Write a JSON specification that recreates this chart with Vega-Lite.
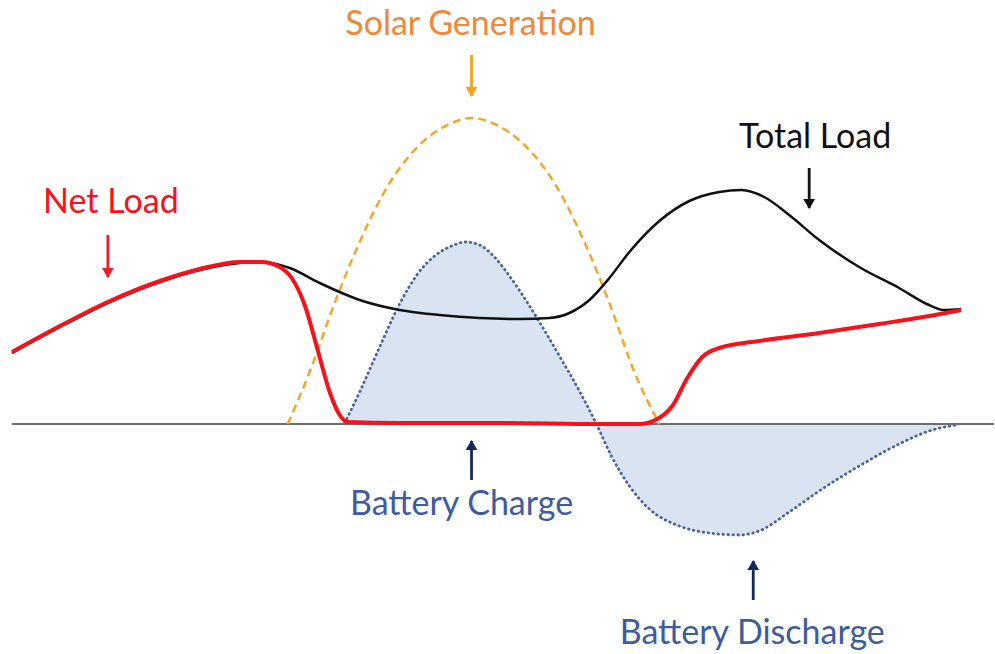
{
  "$schema": "https://vega.github.io/schema/vega-lite/v6.json",
  "autosize": {"type": "fit", "contains": "padding"},
  "width": 995,
  "height": 654,
  "padding": 0,
  "background": "white",
  "config": {"view": {"stroke": null}},
  "datasets": {
    "total": [
      {"x": 12, "y": 353}, {"x": 60, "y": 327}, {"x": 110, "y": 302}, {"x": 160, "y": 282}, {"x": 200, "y": 270},
      {"x": 240, "y": 263}, {"x": 262, "y": 262}, {"x": 290, "y": 268}, {"x": 320, "y": 283}, {"x": 360, "y": 300},
      {"x": 400, "y": 310}, {"x": 440, "y": 315}, {"x": 480, "y": 318}, {"x": 520, "y": 319}, {"x": 550, "y": 318},
      {"x": 570, "y": 313}, {"x": 590, "y": 300}, {"x": 610, "y": 278}, {"x": 630, "y": 252}, {"x": 660, "y": 221},
      {"x": 690, "y": 201}, {"x": 720, "y": 192}, {"x": 742, "y": 190}, {"x": 765, "y": 197}, {"x": 790, "y": 215},
      {"x": 820, "y": 240}, {"x": 860, "y": 267}, {"x": 900, "y": 288}, {"x": 930, "y": 305}, {"x": 945, "y": 310},
      {"x": 962, "y": 309}
    ],
    "net": [
      {"x": 12, "y": 352}, {"x": 60, "y": 326}, {"x": 110, "y": 301}, {"x": 160, "y": 281}, {"x": 200, "y": 269},
      {"x": 240, "y": 262}, {"x": 262, "y": 262}, {"x": 278, "y": 266}, {"x": 292, "y": 278}, {"x": 305, "y": 305},
      {"x": 318, "y": 350}, {"x": 330, "y": 392}, {"x": 340, "y": 415}, {"x": 348, "y": 422}, {"x": 400, "y": 423},
      {"x": 500, "y": 423}, {"x": 600, "y": 424}, {"x": 640, "y": 424}, {"x": 658, "y": 419}, {"x": 673, "y": 406},
      {"x": 688, "y": 378}, {"x": 703, "y": 357}, {"x": 720, "y": 348}, {"x": 760, "y": 341}, {"x": 820, "y": 333},
      {"x": 880, "y": 324}, {"x": 930, "y": 316}, {"x": 962, "y": 310}
    ],
    "solar": [
      {"x": 288, "y": 424}, {"x": 310, "y": 372}, {"x": 335, "y": 303}, {"x": 360, "y": 242}, {"x": 390, "y": 183},
      {"x": 420, "y": 145}, {"x": 450, "y": 124}, {"x": 472, "y": 118}, {"x": 495, "y": 124}, {"x": 525, "y": 145},
      {"x": 555, "y": 183}, {"x": 585, "y": 242}, {"x": 610, "y": 303}, {"x": 635, "y": 372}, {"x": 660, "y": 424}
    ],
    "battery": [
      {"x": 345, "y": 423}, {"x": 360, "y": 392}, {"x": 380, "y": 347}, {"x": 400, "y": 304}, {"x": 418, "y": 274},
      {"x": 435, "y": 256}, {"x": 452, "y": 246}, {"x": 466, "y": 242}, {"x": 480, "y": 245}, {"x": 494, "y": 256},
      {"x": 510, "y": 276}, {"x": 525, "y": 298}, {"x": 540, "y": 322}, {"x": 560, "y": 356}, {"x": 580, "y": 391},
      {"x": 597, "y": 424}, {"x": 612, "y": 456}, {"x": 630, "y": 486}, {"x": 650, "y": 509}, {"x": 680, "y": 526},
      {"x": 710, "y": 533}, {"x": 740, "y": 535}, {"x": 762, "y": 530}, {"x": 790, "y": 512}, {"x": 820, "y": 491},
      {"x": 860, "y": 466}, {"x": 900, "y": 444}, {"x": 930, "y": 431}, {"x": 957, "y": 425}
    ],
    "baseline": [{"x": 12, "x2": 995, "y": 424}],
    "arrows": [
      {"key": "solar", "x": 472, "tail": 55, "head": 96, "dir": "down"},
      {"key": "total", "x": 810, "tail": 168, "head": 208, "dir": "down"},
      {"key": "net", "x": 108, "tail": 235, "head": 277, "dir": "down"},
      {"key": "charge", "x": 472, "tail": 480, "head": 441, "dir": "up"},
      {"key": "discharge", "x": 754, "tail": 600, "head": 561, "dir": "up"}
    ],
    "labels": [
      {"text": "Solar Generation", "x": 471, "y": 25, "key": "solar-text"},
      {"text": "Total Load", "x": 816, "y": 138, "key": "total-text"},
      {"text": "Net Load", "x": 111, "y": 203, "key": "net-text"},
      {"text": "Battery Charge", "x": 462, "y": 505, "key": "charge-text"},
      {"text": "Battery Discharge", "x": 753, "y": 634, "key": "discharge-text"}
    ]
  },
  "encoding": {
    "x": {"field": "x", "type": "quantitative", "scale": {"domain": [0, 995], "nice": false, "zero": false}, "axis": null},
    "y": {"field": "y", "type": "quantitative", "scale": {"domain": [0, 654], "nice": false, "zero": false, "reverse": true}, "axis": null}
  },
  "layer": [
    {
      "data": {"name": "battery"},
      "mark": {"type": "area", "interpolate": "monotone", "color": "#dae3f2", "opacity": 1},
      "encoding": {"y2": {"datum": 424}}
    },
    {
      "data": {"name": "battery"},
      "mark": {"type": "line", "interpolate": "monotone", "color": "#46639a", "strokeWidth": 2.8, "strokeDash": [0.5, 4.5], "strokeCap": "round"},
      "encoding": {}
    },
    {
      "data": {"name": "baseline"},
      "mark": {"type": "rule", "color": "#6e6e6e", "strokeWidth": 2},
      "encoding": {"x": {"field": "x", "type": "quantitative"}, "x2": {"field": "x2"}, "y": {"field": "y", "type": "quantitative"}}
    },
    {
      "data": {"name": "solar"},
      "mark": {"type": "line", "interpolate": "monotone", "color": "#f5a52a", "strokeWidth": 2.5, "strokeDash": [8, 5]},
      "encoding": {}
    },
    {
      "data": {"name": "total"},
      "mark": {"type": "line", "interpolate": "monotone", "color": "#111111", "strokeWidth": 2.5},
      "encoding": {}
    },
    {
      "data": {"name": "net"},
      "mark": {"type": "line", "interpolate": "monotone", "color": "#f5121b", "strokeWidth": 4},
      "encoding": {}
    },
    {
      "data": {"name": "arrows"},
      "mark": {"type": "rule", "strokeWidth": 2.8},
      "encoding": {
        "x": {"field": "x", "type": "quantitative"},
        "y": {"field": "tail", "type": "quantitative"},
        "y2": {"field": "head"},
        "color": {"field": "key", "type": "nominal", "legend": null}
      }
    },
    {
      "data": {"name": "arrows"},
      "transform": [{"filter": "datum.dir === 'down'"}],
      "mark": {"type": "point", "shape": "triangle-down", "filled": true, "size": 140, "opacity": 1, "yOffset": -4},
      "encoding": {
        "x": {"field": "x", "type": "quantitative"},
        "y": {"field": "head", "type": "quantitative"},
        "color": {"field": "key", "type": "nominal", "legend": null}
      }
    },
    {
      "data": {"name": "arrows"},
      "transform": [{"filter": "datum.dir === 'up'"}],
      "mark": {"type": "point", "shape": "triangle-up", "filled": true, "size": 140, "opacity": 1, "yOffset": 4},
      "encoding": {
        "x": {"field": "x", "type": "quantitative"},
        "y": {"field": "head", "type": "quantitative"},
        "color": {"field": "key", "type": "nominal", "legend": null}
      }
    },
    {
      "data": {"name": "labels"},
      "mark": {"type": "text", "font": "Lato", "fontSize": 34, "align": "center", "baseline": "middle"},
      "encoding": {
        "text": {"field": "text"},
        "color": {"field": "key", "type": "nominal", "legend": null,
          "scale": {"domain": ["solar", "total", "net", "charge", "discharge", "solar-text", "total-text", "net-text", "charge-text", "discharge-text"],
                    "range": ["#f2a31f", "#111111", "#ee1c24", "#142860", "#142860", "#f0883a", "#111111", "#f5121b", "#3d5c9e", "#3d5c9e"]}}
      }
    }
  ]
}
